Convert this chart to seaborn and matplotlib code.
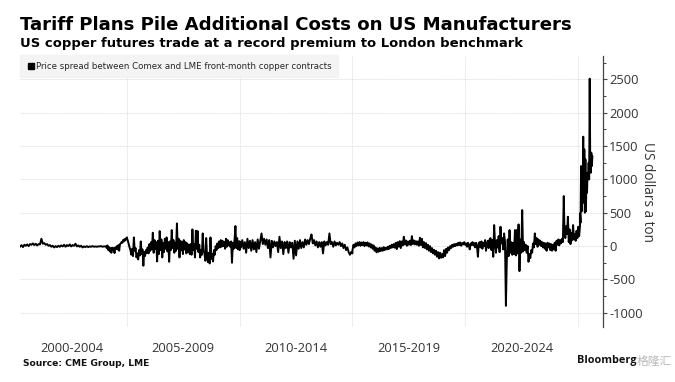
import numpy as np
import pandas as pd
import matplotlib
matplotlib.use("Agg")
import matplotlib.pyplot as plt
from matplotlib.lines import Line2D
from matplotlib.ticker import MultipleLocator, FixedLocator, NullFormatter
import seaborn as sns

# values, USD a ton, each period evenly spaced in time
spread_2000 = [-10, 15, -15, 20, 5, 25, 0, 30, 20, 40, 15, 35, 10, 30, 25, 110, 35, 45, 20, 30, 5, 15, -10, 5, -20, 0,
               -15, 5, -10, 10, -5, 20, -10, 15, 0, 25, -5, 15, 5, 35, -5, 10, -10, 5, -20, -5, -15, 0, -15, -5, -10,
               0, -10, -5, -10, -5, -5, 0, -10, -5, -5, 0]
spread_2004 = [-30, 10, -60, -15, -80, -30, -100, -25, -60, -30, -105, -20, -45, 0, -50, 15, -70, 30, 40, 60, 50, 90,
               70, 105, 85, 120, 130]
spread_2005 = [120, 80, 30, -20, -60, -130, -40, -150, 130, -70, -30, -170, -110, -200, -60, -140, 70, -120, -50, -295,
               -90, -150, -60, -100, -20, -110, 30, -70, 60, -50, 200, -100, 90, -40, 60, -230, 80, -120, 225, -60, 100,
               -170, 50, -90, 110, -40, 130, -80, 60, -235, 70, -60, 240, -30, 90, -100, 50, -70, 340, -40, 110, -170,
               80, -60, 60, -120, 90, -50, 60, -110, 40, -90, 20, -120, 30, -130, 250, -60, 30, -170, 230, -40, 225, -90,
               20, -170, -60, -130, 190, -70, -110, -220, 120, -150, -240, -100, -260, 130, -190, -120, -230, -60, -130,
               0, -60, 40, -30, 70, -20, 90, -10, 80, 0, 60, -40, 110, -10, 90, 10, 60, -10, 70, -250, 50, -40, 100, 300,
               -30, 120, -50, 70, -60]
spread_2010 = [70, -20, 90, -40, 60, -100, 110, -30, 80, -70, 90, -50, 60, -90, 100, -40, 80, 190, 30, 110, 20, 100, -30,
               90, -170, 80, -20, 70, 0, 60, -90, 140, -30, 70, -120, 60, -30, 70, -100, 60, -20, 50, -190, 80, -140, 70,
               -40, 90, -30, 60, -20, 100, 20, 90, 30, 110, 175, 40, 90, 10, 70, -20, 60, -10, 60, -110, 70, 10, 60, 20,
               190, 30, 60, -10, 70, 10, 50, 20, 60, 0, 40, -30, 20, -60, -20, -90, -130, -90, -110]
spread_2015 = [-60, 20, -20, 40, 0, 55, 10, 60, 5, 55, 15, 60, 0, 50, 10, 55, -5, 40, -20, 25, -40, 10, -70, -20, -95, -35,
               -85, -25, -75, -30, -70, -15, -60, -25, -50, -10, -45, 5, -30, 20, -20, 30, -25, 50, -45, 60, -10, 75, -30,
               70, 10, 140, 25, 85, 5, 70, 20, 80, 15, 150, 30, 85, 25, 75, 20, 70, 5, 125, 15, 110, -20, 60, -30, 45, -50,
               20, -70, 0, -90, -30, -110, -55, -130, -70, -160, -90, -185, -100, -175, -120, -170, -60, -150, -40, -100,
               -20, -60, 0, -30, 20, -10, 30, 0, 35, 10, 50, 15, 55, 5, 45, 25, 60, 20]
spread_2020 = [20, 40, -10, 50, 10, -50, 40, 20, 60, 10, 45, -20, 50, 0, -160, 40, 60, -20, 70, -40, 50, 0, 90, -70, 30,
               80, -30, 100, 120, -60, 90, -160, 315, 30, -100, 90, -20, 150, -90, 290, 40, 120, -50, 190, 60, -895, -200,
               100, -150, 240, -100, 60, -130, 50, -120, 240, -140, 240, -110, 325, -375, 100, -100, 540, -80, 60, -60, 20,
               -100, 0, -235, -120, -180, -60, -100, 40, -20, 190, 30, 120, -10, 100, 20, 80, 0, 60, -20, 50, -40, 40, -70,
               50, -20, 40, -60, 30, -70, 20, -50, 50, -70, 80, 20, 100, 10, 90, 40, 110, 60, 750]
spread_2024 = [240, 120, 300, 180, 440, 60, 250, 30, 200, 90, 315, 100, 180, 80, 230, 120, 290, 150, 300]
spread_2025 = [490, 350, 1200, 520, 1000, 700, 1640, 650, 1450, 500, 1300, 520, 1050, 800, 1100, 1000, 1250, 1000, 2510,
               1200, 1100, 1400, 1200, 1350]

period_starts = [2000.26, 2004.1, 2005.0, 2010.0, 2015.0, 2020.0, 2024.4, 2025.09]
period_ends = [2004.1, 2005.0, 2010.0, 2015.0, 2020.0, 2024.37, 2025.09, 2025.64]
periods = [spread_2000, spread_2004, spread_2005, spread_2010, spread_2015, spread_2020, spread_2024, spread_2025]

y_ticks = [-1000, -500, 0, 500, 1000, 1500, 2000, 2500]
y_labels = ["-1000", "-500", "0", "500", "1000", "1500", "2000", "2500"]
year_lines = [2005, 2010, 2015, 2020, 2025]
span_centres = [2002.55, 2007.5, 2012.5, 2017.5, 2022.5]
span_labels = ["2000-2004", "2005-2009", "2010-2014", "2015-2019", "2020-2024"]

frames = []
for start, end, vals in zip(period_starts, period_ends, periods):
    frames.append(pd.DataFrame({"year": np.linspace(start, end, len(vals)), "spread": vals}))
df = pd.concat(frames, ignore_index=True)

sns.set_style("white")
plt.rcParams["font.family"] = ["DejaVu Sans"]

W, H = 675, 382
fig = plt.figure(figsize=(W / 100, H / 100), dpi=100, facecolor="white")
ax = fig.add_axes([20 / W, 1 - 327 / H, (603 - 20) / W, (327 - 56) / H])

sns.lineplot(data=df, x="year", y="spread", estimator=None, sort=False, color="black", linewidth=1.4, ax=ax, zorder=3)

ax.set_xlim(2000.255, 2026.11)
ax.set_ylim(-1213, 2850)
ax.set_xlabel("")
ax.set_ylabel("")

# grid, faint like the original
ax.set_xticks(year_lines)
ax.xaxis.set_minor_locator(FixedLocator(span_centres))
ax.xaxis.set_minor_formatter(NullFormatter())
ax.set_xticklabels([])
ax.tick_params(axis="x", which="both", length=0)
ax.grid(True, axis="both", which="major", color="#e2e2e2", linewidth=0.7, linestyle=(0, (1, 0.6)))
ax.set_axisbelow(True)

ax.yaxis.tick_right()
ax.set_yticks(y_ticks)
ax.set_yticklabels(y_labels, fontfamily="Open Sans", fontsize=9.3, color="#333333")
ax.yaxis.set_minor_locator(MultipleLocator(250))
ax.tick_params(axis="y", which="major", length=3, width=0.8, color="#444444", pad=1.5, right=True)
ax.tick_params(axis="y", which="minor", length=2, width=0.7, color="#444444", right=True)

for side in ["left", "top", "bottom"]:
    ax.spines[side].set_visible(False)
ax.spines["right"].set_visible(True)
ax.spines["right"].set_color("#444444")
ax.spines["right"].set_linewidth(0.9)

for c, lab in zip(span_centres, span_labels):
    ax.text(c, -1213 - 21 * 15, lab, ha="center", va="center", fontfamily="Open Sans", fontsize=9.3, color="#333333")

handle = Line2D([], [], marker="s", linestyle="none", color="black", markersize=4.2)
leg = ax.legend([handle], ["Price spread between Comex and LME front-month copper contracts"], loc="upper left",
                bbox_to_anchor=(0, 1.003), borderaxespad=0, frameon=True, fontsize=6.2, handletextpad=0.0,
                handlelength=1.1, borderpad=0.75, fancybox=False, facecolor="#f3f3f3", edgecolor="#f3f3f3",
                framealpha=0.9)

fig.text(20 / W, 1 - 25 / H, "Tariff Plans Pile Additional Costs on US Manufacturers", fontsize=13.1, fontweight="bold",
         va="center", color="black")
fig.text(20 / W, 1 - 44 / H, "US copper futures trade at a record premium to London benchmark", fontsize=9.45,
         fontweight="bold", va="center", color="black")
fig.text(648 / W, 1 - 192 / H, "US dollars a ton", rotation=270, ha="center", va="center", fontfamily="Open Sans",
         fontsize=9.8, color="#333333")
fig.text(23 / W, 1 - 363 / H, "Source: CME Group, LME", fontsize=6.6, fontweight="bold", va="center", color="#111111")
fig.text(577 / W, 1 - 361 / H, "Bloomberg", fontsize=7.8, fontweight="bold", va="center", color="#111111",
         fontfamily="Open Sans")
fig.text(637 / W, 1 - 361 / H, "格隆汇", fontsize=8.5, va="center", color="#b8b8b8", fontfamily=["Noto Sans CJK SC", "DejaVu Sans"])

fig.savefig("out.png", dpi=100)
